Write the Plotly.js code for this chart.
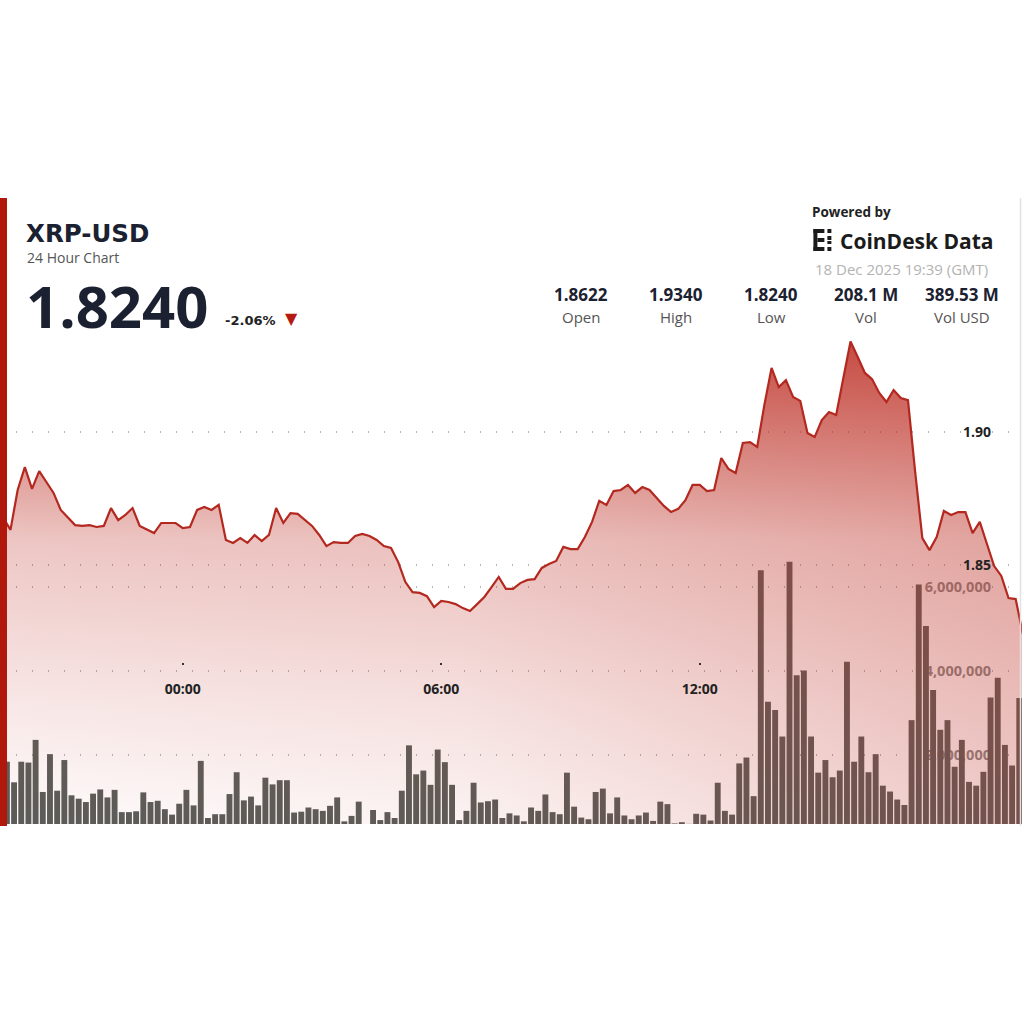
<!DOCTYPE html>
<html>
<head>
<meta charset="utf-8">
<script src="https://cdn.plot.ly/plotly-3.0.1.min.js"></script>
<style>html,body{margin:0;padding:0;background:#fff;}#chart{width:1024px;height:1024px;}</style>
</head>
<body>
<div id="chart"></div>
<script>
// ---------------- DATA ----------------
// 10-minute points, first at 2025-12-17 19:50 (GMT)
const startTime = '2025-12-17T19:50:00Z';
const stepMinutes = 10;

const price = [
  1.8677, 1.8632, 1.8782, 1.8868, 1.8786, 1.8853, 1.8812, 1.8771, 1.8707, 1.8680,
  1.8650, 1.8647, 1.8650, 1.8643, 1.8647, 1.8714, 1.8669, 1.8688, 1.8714, 1.8647,
  1.8632, 1.8620, 1.8658, 1.8658, 1.8658, 1.8639, 1.8643, 1.8707, 1.8718, 1.8707,
  1.8726, 1.8594, 1.8583, 1.8601, 1.8583, 1.8613, 1.8590, 1.8613, 1.8714, 1.8658,
  1.8695, 1.8692, 1.8669, 1.8647, 1.8613, 1.8571, 1.8586, 1.8583, 1.8583, 1.8609,
  1.8617, 1.8609, 1.8594, 1.8571, 1.8564, 1.8511, 1.8436, 1.8398, 1.8395, 1.8383,
  1.8342, 1.8365, 1.8361, 1.8353, 1.8338, 1.8327, 1.8353, 1.8380, 1.8417, 1.8455,
  1.8410, 1.8410, 1.8432, 1.8444, 1.8447, 1.8489, 1.8504, 1.8515, 1.8568, 1.8560,
  1.8560, 1.8605, 1.8662, 1.8741, 1.8726, 1.8778, 1.8782, 1.8801, 1.8771, 1.8793,
  1.8782, 1.8752, 1.8722, 1.8699, 1.8711, 1.8744, 1.8801, 1.8801, 1.8778, 1.8782,
  1.8902, 1.8861, 1.8846, 1.8959, 1.8962, 1.8944, 1.9102, 1.9241, 1.9169, 1.9195,
  1.9132, 1.9117, 1.8996, 1.8981, 1.9045, 1.9075, 1.9064, 1.9203, 1.9340, 1.9282,
  1.9222, 1.9199, 1.9147, 1.9113, 1.9158, 1.9128, 1.9120, 1.8850, 1.8601, 1.8556,
  1.8605, 1.8703, 1.8688, 1.8699, 1.8699, 1.8620, 1.8662, 1.8579, 1.8496, 1.8459,
  1.8376, 1.8372, 1.8240
];

// volume per 10-minute interval (millions of XRP)
const volumeM = [
  1.84, 1.35, 1.84, 1.82, 2.36, 1.12, 2.02, 1.15, 1.88, 1.04,
  0.96, 0.88, 1.08, 1.18, 0.99, 1.17, 0.64, 0.64, 0.66, 1.11,
  0.88, 0.91, 0.71, 0.58, 0.84, 1.17, 0.80, 1.86, 0.50, 0.59,
  0.59, 1.07, 1.59, 0.92, 1.01, 0.80, 1.46, 1.30, 1.40, 1.40,
  0.63, 0.65, 0.75, 0.71, 0.67, 0.79, 0.99, 0.42, 0.55, 0.89,
  0.30, 0.69, 0.45, 0.64, 0.50, 1.15, 2.23, 1.54, 1.63, 1.29,
  2.13, 1.83, 1.29, 0.45, 0.67, 1.34, 0.87, 0.90, 0.94, 0.50,
  0.61, 0.56, 0.42, 0.75, 0.67, 1.06, 0.64, 0.59, 1.58, 0.77,
  0.51, 0.47, 1.12, 1.20, 0.61, 0.99, 0.56, 0.47, 0.56, 0.63,
  0.43, 0.89, 0.83, 0.37, 0.40, 0.36, 0.60, 0.58, 0.44, 1.34,
  0.67, 0.58, 1.80, 1.94, 1.02, 6.40, 3.27, 3.07, 2.44, 6.60,
  3.90, 4.01, 2.44, 1.58, 1.88, 1.47, 1.63, 4.22, 1.84, 2.44,
  1.59, 2.02, 1.27, 1.13, 0.94, 0.81, 2.83, 6.06, 5.07, 3.55,
  2.60, 2.83, 1.72, 2.36, 1.36, 1.27, 1.60, 3.37, 3.84, 2.24,
  1.75, 3.36
];

const timeTickVals = ['2025-12-18 00:00', '2025-12-18 06:00', '2025-12-18 12:00', '2025-12-18 18:00'];
const timeTickText = ['00:00', '06:00', '12:00', '18:00'];
const priceTicks = [1.85, 1.90];
const volumeTicks = [2000000, 4000000, 6000000];

const header = {
  symbol: 'XRP-USD', subtitle: '24 Hour Chart', last: '1.8240', change: '-2.06%',
  stats: [['1.8622', 'Open'], ['1.9340', 'High'], ['1.8240', 'Low'], ['208.1 M', 'Vol'], ['389.53 M', 'Vol USD']],
  powered: 'Powered by', brand: 'CoinDesk Data', stamp: '18 Dec 2025 19:39 (GMT)'
};

// ---------------- BUILD ----------------
function fmt(ms) {
  const d = new Date(ms);
  const p = n => String(n).padStart(2, '0');
  return d.getUTCFullYear() + '-' + p(d.getUTCMonth() + 1) + '-' + p(d.getUTCDate()) + ' ' +
    p(d.getUTCHours()) + ':' + p(d.getUTCMinutes()) + ':00';
}
const t0 = Date.parse(startTime);
const times = price.map((_, i) => fmt(t0 + i * stepMinutes * 60000));
const volume = volumeM.map(v => v * 1e6);

const W = 1024, H = 1024;
const px = x => x / W;
const py = y => 1 - y / H;

const FONT = 'Open Sans, Noto Sans, sans-serif';
const DOT = '1px,15px';
const RED = '190,52,42';

const bars = {
  type: 'bar', x: times.slice(0, volume.length), y: volume,
  xperiod: stepMinutes * 60000, xperiodalignment: 'middle',
  marker: {color: '#595d59', line: {width: 0}},
  yaxis: 'y', hoverinfo: 'skip'
};
// horizontal tint: deeper toward the most recent hours
const areaH = {
  type: 'scatter', mode: 'lines', x: times, y: price, yaxis: 'y2',
  line: {width: 0}, fill: 'tozeroy',
  fillgradient: {type: 'horizontal',
    colorscale: [[0, 'rgba(' + RED + ',0)'], [0.45, 'rgba(' + RED + ',0.04)'], [1, 'rgba(' + RED + ',0.24)']]},
  hoverinfo: 'skip'
};
// vertical tint with the price line
const area = {
  type: 'scatter', mode: 'lines', x: times, y: price, yaxis: 'y2',
  line: {color: '#b3281f', width: 2.2},
  fill: 'tozeroy',
  fillgradient: {type: 'vertical', start: 1.7526, stop: 1.9342,
    colorscale: [[0, 'rgba(' + RED + ',0.02)'], [0.2566, 'rgba(' + RED + ',0.12)'],
      [0.588, 'rgba(' + RED + ',0.28)'], [0.816, 'rgba(' + RED + ',0.6)'], [1, 'rgba(' + RED + ',0.86)']]},
  hoverinfo: 'skip'
};

function ann(text, x, y, size, color, anchor, family) {
  return {xref: 'paper', yref: 'paper', x: px(x), y: py(y), text: text, showarrow: false,
    xanchor: anchor || 'left', yanchor: 'middle',
    font: {family: family || FONT, size: size, color: color}};
}
const annotations = [
  ann('<b>' + header.symbol + '</b>', 24, 233, 24.5, '#1b2130', 'left', 'DejaVu Sans, sans-serif'),
  ann(header.subtitle, 25, 257, 14, '#555', 'left'),
  ann('<b>' + header.last + '</b>', 24, 305, 58, '#1b2130', 'left'),
  ann('<b>' + header.change + '</b>', 223, 320, 13, '#222', 'left', 'DejaVu Sans, sans-serif'),
  ann('▼', 292, 318, 16, '#b51a10', 'center', 'DejaVu Sans, sans-serif'),
  ann('<b>' + header.powered + '</b>', 812, 212, 13.5, '#222', 'left'),
  ann('<b>' + header.brand + '</b>', 840, 241, 21, '#1b1b1b', 'left'),
  ann(header.stamp, 815, 269, 15, '#b3b3b3', 'left')
];
const statX = [582, 677, 773, 868, 964];
header.stats.forEach((s, i) => {
  annotations.push(ann('<b>' + s[0] + '</b>', statX[i], 294, 17, '#1b2130', 'center'));
  annotations.push(ann(s[1], statX[i], 317, 15, '#555', 'center'));
});

function rect(x0, y0, x1, y1, color) {
  return {type: 'rect', xref: 'paper', yref: 'paper', x0: px(x0), x1: px(x1), y0: py(y1), y1: py(y0),
    fillcolor: color, line: {width: 0}, layer: 'above'};
}
const shapes = [
  rect(0, 198, 7, 826, '#b0180c'),
  {type: 'line', xref: 'paper', yref: 'paper', x0: px(1022.5), x1: px(1022.5), y0: py(826), y1: py(198),
    line: {color: '#e2e2e2', width: 1.5}, layer: 'above'},
  // CoinDesk Data mark
  rect(815, 229, 819, 251, '#1b1b1b'),
  rect(815, 229, 826, 233, '#1b1b1b'),
  rect(815, 247, 826, 251, '#1b1b1b'),
  rect(819, 238, 826, 242, '#1b1b1b'),
  rect(829, 229, 833, 233, '#1b1b1b'),
  rect(829, 247, 833, 251, '#1b1b1b'),
  rect(829, 236, 833, 240, '#1b1b1b'),
  rect(829, 241, 833, 244, '#1b1b1b')
];

const layout = {
  width: W, height: H,
  margin: {l: 0, r: 2, t: 0, b: 0, pad: 0},
  paper_bgcolor: '#ffffff', plot_bgcolor: 'rgba(0,0,0,0)',
  showlegend: false, bargap: 0.18,
  xaxis: {
    type: 'date', domain: [0, 1],
    range: ['2025-12-17 19:45:24', '2025-12-18 19:28:48'],
    anchor: 'free', position: py(662),
    showgrid: false, zeroline: false, showline: false,
    ticks: 'outside', ticklen: 2, tickwidth: 2, tickcolor: '#333',
    tickvals: timeTickVals, ticktext: timeTickText, ticklabelstandoff: 12,
    tickfont: {family: FONT, size: 14, color: '#222', weight: 700}
  },
  yaxis: {
    domain: [py(824), py(330)], range: [357000, 12120000], anchor: 'x', side: 'right',
    tickvals: volumeTicks, tickformat: ',d', ticklabelposition: 'inside', ticks: '',
    ticklabelstandoff: 28, layer: 'below traces',
    showgrid: true, gridcolor: '#b5b5b5', gridwidth: 1.5, griddash: DOT, zeroline: false, showline: false,
    tickfont: {family: FONT, size: 14.5, color: '#8a8a8a', weight: 700}
  },
  yaxis2: {
    overlaying: 'y', anchor: 'x', side: 'right', range: [1.75263, 1.93835],
    tickvals: priceTicks, tickformat: '.2f', ticklabelposition: 'inside', ticks: '',
    ticklabelstandoff: 28,
    showgrid: true, gridcolor: '#b5b5b5', gridwidth: 1.5, griddash: DOT, zeroline: false, showline: false,
    tickfont: {family: FONT, size: 14, color: '#222', weight: 700}
  },
  annotations: annotations,
  shapes: shapes
};

Plotly.newPlot('chart', [bars, areaH, area], layout, {staticPlot: true, displayModeBar: false});
</script>
</body>
</html>
